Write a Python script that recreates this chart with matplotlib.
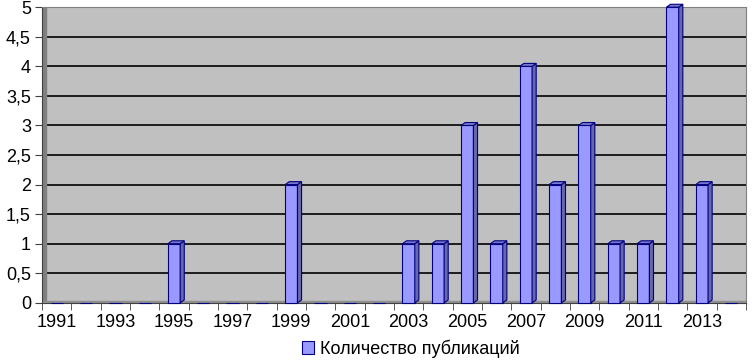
import matplotlib.pyplot as plt
from matplotlib.patches import Polygon

plt.rcParams['font.family'] = ['Liberation Sans', 'DejaVu Sans']

# publications per year
years = list(range(1991, 2015))
counts = [0, 0, 0, 0, 1, 0, 0, 0, 2, 0, 0, 0, 1, 1, 3, 1, 4, 2, 3, 1, 1, 5, 2, 0]
yticks = [0, 0.5, 1, 1.5, 2, 2.5, 3, 3.5, 4, 4.5, 5]
ytick_labels = ["0", "0,5", "1", "1,5", "2", "2,5", "3", "3,5", "4", "4,5", "5"]
legend_label = "Количество публикаций"

fig = plt.figure(figsize=(7.56, 3.61), dpi=100)
ax = fig.add_axes([0.0556, 0.161, 0.931, 0.819])
ax.set_facecolor("#C0C0C0")

x = list(range(len(years)))
w = 0.42
dx, dy = 0.14, 0.05  # fake 3D depth

bars = ax.bar(x, counts, width=w, color="#9999FF", edgecolor="#000080",
              linewidth=0.8, zorder=3, label=legend_label, clip_on=False)
for xi, v in zip(x, counts):
    if v <= 0:
        continue
    r = xi + w / 2
    l = xi - w / 2
    side = Polygon([(r, 0), (r + dx, dy), (r + dx, v + dy), (r, v)],
                   closed=True, facecolor="#6666AA", edgecolor="#000080",
                   linewidth=0.8, zorder=3, clip_on=False)
    top = Polygon([(l, v), (l + dx, v + dy), (r + dx, v + dy), (r, v)],
                  closed=True, facecolor="#7777CC", edgecolor="#000080",
                  linewidth=0.8, zorder=3, clip_on=False)
    ax.add_patch(side)
    ax.add_patch(top)

ax.set_xlim(-0.5, len(years) - 0.5)
ax.set_ylim(0, 5)
ax.set_yticks(yticks)
ax.set_yticklabels(ytick_labels, fontsize=13)
ax.yaxis.grid(True, color="black", linewidth=1.2, zorder=1)
ax.set_axisbelow(True)

ax.set_xticks(x[::2])
ax.set_xticklabels([str(y) for y in years[::2]], fontsize=13)
ax.set_xticks([i - 0.5 for i in range(len(years) + 1)], minor=True)
ax.tick_params(axis="x", which="major", length=0, pad=8)
ax.tick_params(axis="x", which="minor", length=5, color="#404040")
ax.tick_params(axis="y", length=5, color="#404040", pad=3)

# dark side strip and floor like the Excel 3D wall
ax.axvspan(-0.5, -0.37, color="#808080", zorder=2)
ax.axhspan(0, 0.03, color="#909090", zorder=2)

for s in ["top", "right"]:
    ax.spines[s].set_color("#808080")
ax.spines["left"].set_color("#404040")
ax.spines["bottom"].set_color("#404040")

fig.legend(handles=[bars], labels=[legend_label], loc="center",
           bbox_to_anchor=(0.543, 0.035), frameon=False, fontsize=13,
           handlelength=0.7, handleheight=0.7, handletextpad=0.3)

fig.savefig("out.png", dpi=100)
